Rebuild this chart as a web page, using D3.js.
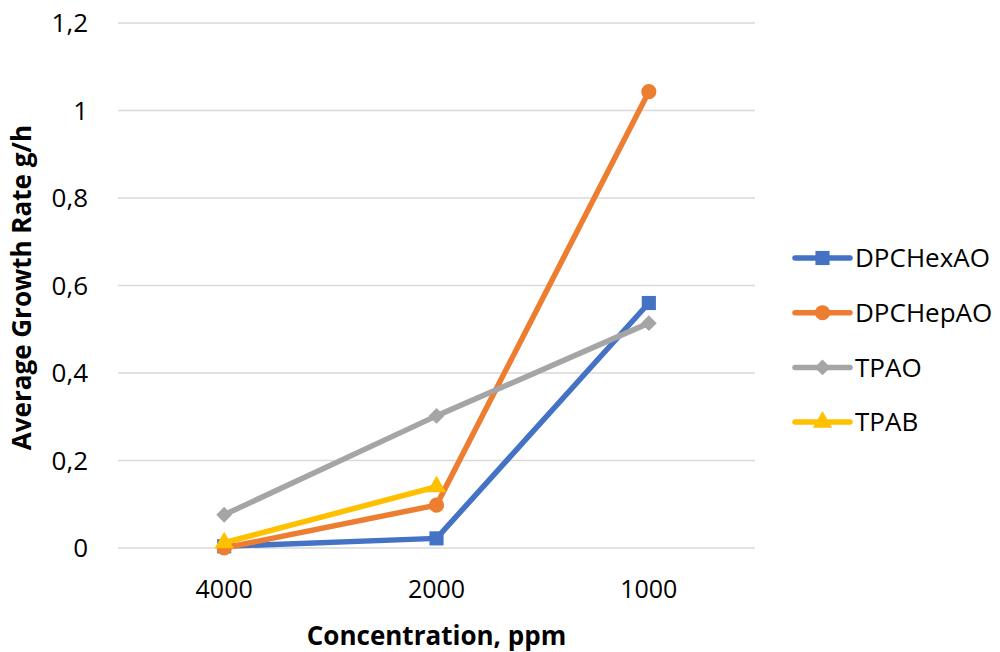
<!DOCTYPE html>
<html>
<head>
<meta charset="utf-8">
<script src="https://cdn.jsdelivr.net/npm/d3@7"></script>
<style>
  body { margin: 0; background: #fff; }
  text { font-family: "Open Sans", "Liberation Sans", sans-serif; fill: #000; }
</style>
</head>
<body>
<div id="chart"></div>
<script>
// data
const categories = ["4000", "2000", "1000"];
const seriesNames = ["DPCHexAO", "DPCHepAO", "TPAO", "TPAB"];
const dpchexao = [0.004, 0.022, 0.56];
const dpchepao = [0.0, 0.098, 1.043];
const tpao = [0.076, 0.302, 0.514];
const tpab = [0.012, 0.14, null];
const yTicks = [0, 0.2, 0.4, 0.6, 0.8, 1, 1.2];

const colors = ["#4472C4", "#ED7D31", "#A5A5A5", "#FFC000"];
const shapes = [d3.symbolSquare, d3.symbolCircle, d3.symbolDiamond2, d3.symbolTriangle];
const sizes = [200, 180, 160, 160];

const allSeries = [dpchexao, dpchepao, tpao, tpab];

const W = 1000, H = 652;
const margin = {top: 23, right: 245, bottom: 104, left: 118};
const width = W - margin.left - margin.right;
const height = H - margin.top - margin.bottom;

const svg = d3.select("#chart").append("svg")
    .attr("width", W)
    .attr("height", H);

const g = svg.append("g")
    .attr("transform", `translate(${margin.left},${margin.top})`);

const x = d3.scalePoint()
    .domain(categories)
    .range([0, width])
    .padding(0.5);

const y = d3.scaleLinear()
    .domain([0, 1.2])
    .range([height, 0]);

// gridlines
g.append("g")
    .selectAll("line")
    .data(yTicks)
    .enter().append("line")
    .attr("x1", 0)
    .attr("x2", width)
    .attr("y1", d => y(d))
    .attr("y2", d => y(d))
    .attr("stroke", "#D9D9D9")
    .attr("stroke-width", 1.5);

// y tick labels
const fmt = d => d3.format("~g")(d).replace(".", ",");
g.append("g")
    .selectAll("text")
    .data(yTicks)
    .enter().append("text")
    .attr("x", -30)
    .attr("y", d => y(d))
    .attr("dy", "0.36em")
    .attr("text-anchor", "end")
    .style("font-size", "26px")
    .text(fmt);

// x tick labels
g.append("g")
    .selectAll("text")
    .data(categories)
    .enter().append("text")
    .attr("x", d => x(d))
    .attr("y", height + 50)
    .attr("text-anchor", "middle")
    .style("font-size", "25px")
    .text(d => d);

// axis titles
svg.append("text")
    .attr("x", margin.left + width / 2)
    .attr("y", 645)
    .attr("text-anchor", "middle")
    .style("font-size", "26px")
    .style("font-weight", "bold")
    .text("Concentration, ppm");

svg.append("text")
    .attr("transform", `translate(31,${margin.top + height / 2 + 2}) rotate(-90)`)
    .attr("text-anchor", "middle")
    .style("font-size", "26px")
    .style("font-weight", "bold")
    .text("Average Growth Rate g/h");

// lines + markers
const line = d3.line()
    .defined(d => d.v !== null)
    .x(d => x(d.c))
    .y(d => y(d.v));

allSeries.forEach((vals, i) => {
    let pts = vals.map((v, j) => ({c: categories[j], v: v}));
    g.append("path")
        .datum(pts)
        .attr("d", line)
        .attr("fill", "none")
        .attr("stroke", colors[i])
        .attr("stroke-width", 5.5)
        .attr("stroke-linejoin", "round");

    g.append("g")
        .selectAll("path")
        .data(pts.filter(d => d.v !== null))
        .enter().append("path")
        .attr("transform", d => `translate(${x(d.c)},${y(d.v)})`)
        .attr("d", d3.symbol().type(shapes[i]).size(sizes[i]))
        .attr("fill", colors[i]);
});

// legend
const legend = svg.append("g")
    .attr("transform", "translate(795,258)");

const items = legend.selectAll("g")
    .data(seriesNames)
    .enter().append("g")
    .attr("transform", (d, i) => `translate(0,${i * 54.7})`);

items.append("line")
    .attr("x1", 0).attr("x2", 55)
    .attr("stroke", (d, i) => colors[i])
    .attr("stroke-width", 5.5)
    .attr("stroke-linecap", "round");

items.append("path")
    .attr("transform", "translate(27.5,0)")
    .attr("d", (d, i) => d3.symbol().type(shapes[i]).size(sizes[i])())
    .attr("fill", (d, i) => colors[i]);

items.append("text")
    .attr("x", 60)
    .attr("dy", "0.36em")
    .style("font-size", "26px")
    .text(d => d);
</script>
</body>
</html>
